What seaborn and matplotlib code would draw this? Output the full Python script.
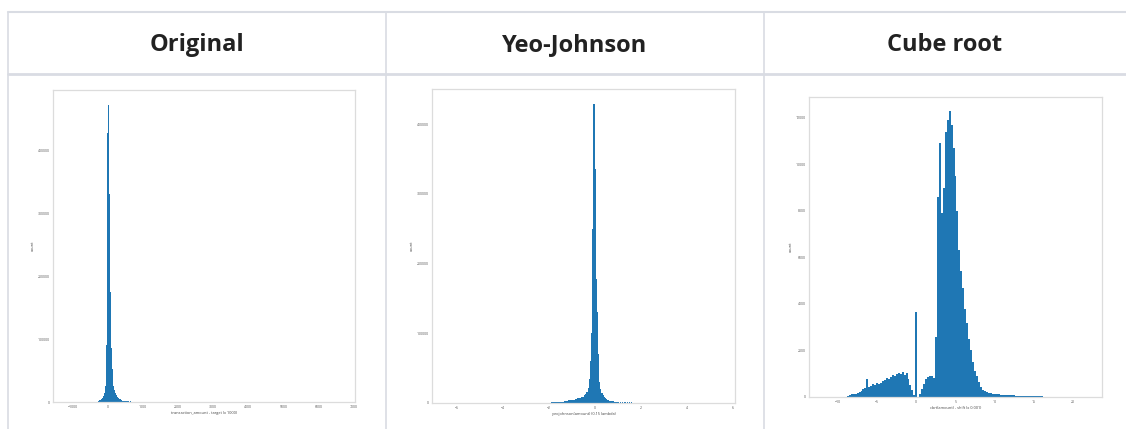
import matplotlib
matplotlib.use("Agg")
import matplotlib.pyplot as plt
import numpy as np
import pandas as pd
import seaborn as sns

sns.set_style("white")
plt.rcParams["font.family"] = ["Open Sans", "DejaVu Sans"]

titles = ["Original", "Yeo-Johnson", "Cube root"]
xlabels = ["transaction_amount - target (x 1000)", "yeojohnson(amount) (0.15 lambda)", "cbrt(amount) - shift (x 0.001)"]

# Original: bin centers and counts
orig_x = [-300, -275, -250, -225, -200, -175, -150, -125, -100, -75, -50, -25,
          0, 25, 50, 75, 100, 125, 150, 175, 200, 225, 250, 275, 300, 325, 350,
          375, 400, 425, 450, 475, 500, 525, 550, 575, 600, 650, 700, 800, 900,
          1000, 1200, 1400, 1600, 1800, 2000]
orig_n = [500, 1000, 1500, 2500, 3500, 5000, 7000, 10000, 15000, 25000, 42000, 90000,
          428000, 472000, 330000, 175000, 85000, 52000, 36000, 26000, 19000, 14000, 11000,
          8500, 6500, 5000, 4000, 3200, 2600, 2100, 1800, 1500, 1300, 1200, 1100, 1000,
          900, 800, 700, 600, 500, 450, 400, 350, 300, 250, 200]
orig_ticks = [-1000, 0, 1000, 2000, 3000, 4000, 5000, 6000, 7000]

# Yeo-Johnson
yj_x = [-1.9, -1.85, -1.8, -1.75, -1.7, -1.65, -1.6, -1.55, -1.5,
        -1.45, -1.4, -1.35, -1.3, -1.25, -1.2, -1.15, -1.1, -1.05, -1.0,
        -0.95, -0.9, -0.85, -0.8, -0.75, -0.7, -0.65, -0.6, -0.55, -0.5,
        -0.45, -0.4, -0.35, -0.3, -0.25, -0.2, -0.15, -0.1, -0.05, 0.0,
        0.05, 0.1, 0.15, 0.2, 0.25, 0.3, 0.35, 0.4, 0.45, 0.5,
        0.55, 0.6, 0.65, 0.7, 0.75, 0.8, 0.85, 0.9, 0.95, 1.0,
        1.1, 1.2, 1.3, 1.4, 1.5, 1.6, 1.7, 1.8, 1.9, 2.0]
yj_n = [800, 900, 1000, 1100, 1200, 1300, 1400, 1500, 1700,
        1900, 2100, 2300, 2600, 2900, 3200, 3600, 4000, 4300, 4500,
        4500, 5000, 5500, 6000, 6500, 7000, 7500, 8000, 8500, 9000,
        11000, 13000, 16000, 22000, 35000, 60000, 100000, 250000, 429000, 335000,
        178000, 130000, 70000, 30000, 20000, 15000, 12000, 9000, 7000, 5500,
        4500, 4000, 3500, 3000, 2700, 2400, 2100, 1900, 1700, 1500,
        1300, 1200, 1100, 1000, 900, 800, 700, 600, 550, 500]
yj_ticks = [-6, -4, -2, 0, 2, 4, 6]

# Cube root
cube_x = [-9.0, -8.75, -8.5, -8.25, -8.0, -7.75, -7.5, -7.25, -7.0, -6.75, -6.5, -6.25,
          -6.0, -5.75, -5.5, -5.25, -5.0, -4.75, -4.5, -4.25, -4.0, -3.75, -3.5, -3.25,
          -3.0, -2.75, -2.5, -2.25, -2.0, -1.75, -1.5, -1.25, -1.0, -0.75, -0.5, -0.25,
          0.0, 0.25, 0.5, 0.75, 1.0, 1.25, 1.5, 1.75, 2.0, 2.25, 2.5, 2.75,
          3.0, 3.25, 3.5, 3.75, 4.0, 4.25, 4.5, 4.75, 5.0, 5.25, 5.5, 5.75,
          6.0, 6.25, 6.5, 6.75, 7.0, 7.25, 7.5, 7.75, 8.0, 8.25, 8.5, 8.75,
          9.0, 9.25, 9.5, 9.75, 10.0, 10.25, 10.5, 10.75, 11.0, 11.25, 11.5, 11.75,
          12.0, 12.25, 12.5, 12.75, 13.0, 13.25, 13.5, 13.75, 14.0, 14.25, 14.5, 14.75,
          15.0, 15.25, 15.5, 15.75, 16.0, 16.25, 16.5, 16.75, 17.0, 17.25, 17.5, 17.75]
cube_n = [20, 40, 80, 120, 140, 150, 170, 200, 260, 330, 400, 790,
          420, 470, 560, 500, 600, 560, 620, 680, 720, 800, 760, 880,
          950, 900, 1000, 1050, 980, 1080, 960, 1050, 780, 500, 280, 100,
          3660, 20, 150, 350, 560, 760, 880, 920, 900, 820, 2600, 8600,
          10900, 7900, 9000, 11400, 11900, 12280, 11700, 10700, 9500, 8000, 6300, 5400,
          4700, 3800, 3200, 2500, 2000, 1500, 1100, 900, 650, 450, 320, 260,
          220, 180, 160, 150, 130, 120, 110, 100, 95, 90, 85, 80,
          75, 70, 65, 60, 55, 50, 48, 45, 42, 40, 38, 35,
          32, 30, 28, 25, 22, 20, 18, 16, 14, 12, 10, 8]
cube_ticks = [-10, -5, 0, 5, 10, 15, 20]

W, H = 1126, 429
fig = plt.figure(figsize=(W / 100, H / 100), dpi=100)


def px_axes(left, right, top, bottom):
    return fig.add_axes([left / W, (H - bottom) / H, (right - left) / W, (bottom - top) / H])


def draw_hist(ax, xs, ns, width, xlim, xticks, xlabel, yticks):
    df = pd.DataFrame({"x": xs, "n": ns})
    lo, hi = min(xs) - width / 2, max(xs) + width / 2
    sns.histplot(data=df, x="x", weights="n", binwidth=width, binrange=(lo, hi),
                 ax=ax, color="#1f77b4", alpha=1, linewidth=0)
    ax.set_xlim(*xlim)
    ax.set_xticks(xticks)
    ax.set_yticks(yticks)
    ax.tick_params(labelsize=2.5, length=1.5, width=0.4, pad=1, colors="#555555")
    ax.set_xlabel(xlabel, fontsize=2.8, labelpad=1, color="#444444")
    ax.set_ylabel("count", fontsize=2.8, labelpad=2, color="#444444")
    for s in ax.spines.values():
        s.set_color("#dcdcdc")
        s.set_linewidth(0.9)


ax1 = px_axes(53, 355, 90, 402)
draw_hist(ax1, orig_x, orig_n, 25, (-1560, 7040), orig_ticks,
          xlabels[0], [0, 100000, 200000, 300000, 400000])

ax2 = px_axes(432, 735, 89, 403)
draw_hist(ax2, yj_x, yj_n, 0.05, (-7.1, 6.09), yj_ticks,
          xlabels[1], [0, 100000, 200000, 300000, 400000])

ax3 = px_axes(809, 1102, 97, 397)
draw_hist(ax3, cube_x, cube_n, 0.25, (-13.7, 23.7), cube_ticks,
          xlabels[2], [0, 2000, 4000, 6000, 8000, 10000, 12000])

# table frame
line_c = "#d9dce3"
fig.add_artist(plt.Line2D([8 / W, 1], [1 - 12 / H] * 2, color=line_c, lw=1.5))
fig.add_artist(plt.Line2D([8 / W, 1], [1 - 74 / H] * 2, color=line_c, lw=2))
for xv in [8, 386, 764]:
    fig.add_artist(plt.Line2D([xv / W] * 2, [0, 1 - 12 / H], color=line_c, lw=1.2))

for cx, t in zip([197, 575, 945], titles):
    fig.text(cx / W, 1 - 45 / H, t, ha="center", va="center",
             fontsize=17, fontweight="bold", color="#222222")

fig.savefig("out.png", dpi=100)
